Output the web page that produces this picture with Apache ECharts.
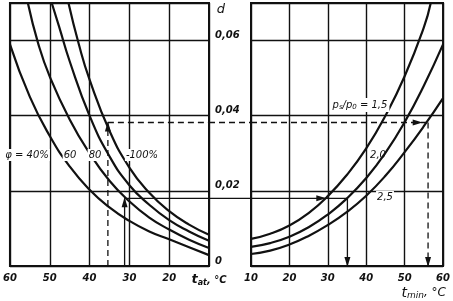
<!DOCTYPE html>
<html><head><meta charset="utf-8">
<script src="https://cdn.jsdelivr.net/npm/echarts@6/dist/echarts.min.js"></script>
<style>html,body{margin:0;padding:0;background:#fff}#c{width:453px;height:301px}</style>
</head><body><div id="c"></div>
<script>
// ---------- data ----------
// left panel: outdoor air temperature t_at (°C) vs moisture content d, for relative humidity φ
const phi40_t  = [10, 15, 20, 25, 30, 35, 40, 45, 50, 55, 60];
const phi40_d  = [0.0029, 0.0050, 0.0071, 0.0092, 0.0120, 0.0156, 0.0203, 0.0265, 0.0346, 0.045, 0.059];
const phi60_t  = [10, 15, 20, 25, 30, 35, 40, 45, 50, 52.9, 55.5];
const phi60_d  = [0.0048, 0.0070, 0.0097, 0.0129, 0.0172, 0.0227, 0.030, 0.039, 0.0504, 0.0592, 0.070];
const phi80_t  = [10, 15, 20, 25, 30, 35, 40, 45, 47.6, 49.5];
const phi80_d  = [0.0067, 0.0092, 0.0122, 0.0163, 0.0215, 0.0292, 0.040, 0.0545, 0.0635, 0.070];
const phi100_t = [10, 15, 20, 25, 30, 35, 40, 42.7, 45.3];
const phi100_d = [0.0083, 0.011, 0.0146, 0.0195, 0.0262, 0.036, 0.0496, 0.059, 0.070];
// right panel: t_min (°C) vs d, for pressure ratio ps/p0
const r15_t = [10, 15, 20, 25, 30, 35, 40, 45, 50, 55, 56.8];
const r15_d = [0.0072, 0.0086, 0.0108, 0.0141, 0.0186, 0.0243, 0.0313, 0.040, 0.0505, 0.0635, 0.070];
const r20_t = [10, 15, 20, 25, 30, 35, 40, 45, 50, 55, 60];
const r20_d = [0.0051, 0.0061, 0.0078, 0.0103, 0.0137, 0.018, 0.0234, 0.0301, 0.0383, 0.048, 0.059];
const r25_t = [10, 15, 20, 25, 30, 35, 40, 45, 50, 55, 60];
const r25_d = [0.0032, 0.0041, 0.0057, 0.008, 0.0109, 0.0144, 0.0187, 0.024, 0.0303, 0.0372, 0.0447];
// worked examples: [t_at, d, t_min, arrow position on t_min axis]
const exampleSolid  = [31.2, 0.018, 35.1, 28.3];
const exampleDashed = [35.4, 0.0382, 56.1, 53.4];
// axes
const tAtRange  = [10, 60];
const tMinRange = [10, 60];
const dRange    = [0, 0.07];
const tStep = 10, dStep = 0.02;
const labels = { phi: ['φ = 40%', '60', '80', '-100%'], ratio: ['1,5', '2,0', '2,5'] };

// ---------- chart ----------
const zip = (a, b) => a.map((v, i) => [v, b[i]]);
const font = 'DejaVu Sans';
const tickFont = { color: '#111', fontFamily: font, fontStyle: 'italic', fontWeight: 'bold', fontSize: 10 };
const ink = '#111';
const curve = (name, t, d, gi) => ({
  type: 'line', name, xAxisIndex: gi, yAxisIndex: gi, data: zip(t, d),
  smooth: 0.5, symbol: 'none', clip: true, silent: true,
  lineStyle: { color: ink, width: 2.2 }
});
const seg = (pts, gi, dashed, arrowIdx, rot) => ({
  type: 'line', xAxisIndex: gi, yAxisIndex: gi, silent: true, clip: false,
  data: pts.map((p, i) => (i === arrowIdx
    ? { value: p, symbol: 'triangle', symbolSize: [6, 10], symbolRotate: rot, symbolOffset: rot === 180 ? [0, -4] : (rot === 0 ? [0, 4] : [0, 0]) }
    : { value: p, symbol: 'none' })),
  showAllSymbol: true,
  itemStyle: { color: ink },
  lineStyle: { color: ink, width: 1.3, type: dashed ? [6, 4] : 'solid' }
});

const chart = echarts.init(document.getElementById('c'), null, { renderer: 'canvas' });
const grids = [
  { left: 4, top: 3, width: 205, height: 263, show: true, borderColor: ink, borderWidth: 2, backgroundColor: '#fff' },
  { left: 251, top: 3, width: 197, height: 263, show: true, borderColor: ink, borderWidth: 2, backgroundColor: '#fff' }
];
const splitStyle = { show: true, lineStyle: { color: ink, width: 1.4 } };
const option = {
  animation: false,
  backgroundColor: '#fff',
  grid: grids,
  xAxis: [
    { type: 'value', gridIndex: 0, min: tAtRange[0], max: tAtRange[1], interval: tStep, inverse: true,
      axisLine: { show: false }, axisTick: { show: false }, splitLine: splitStyle,
      axisLabel: { ...tickFont, margin: 7,
        formatter: v => v === 10 ? '{t|t}{s|at}{n|, °C}' : String(v),
        rich: { t: { fontFamily: font, fontStyle: 'italic', fontSize: 13, color: ink },
                s: { fontFamily: font, fontStyle: 'italic', fontSize: 8, color: ink, padding: [6, 0, 0, 0] },
                n: { fontFamily: font, fontStyle: 'italic', fontSize: 10, color: ink } } } },
    { type: 'value', gridIndex: 1, min: tMinRange[0], max: tMinRange[1], interval: tStep,
      axisLine: { show: false }, axisTick: { show: false }, splitLine: splitStyle,
      axisLabel: { ...tickFont, margin: 7 } }
  ],
  yAxis: [
    { type: 'value', gridIndex: 0, min: dRange[0], max: dRange[1], interval: dStep, position: 'right',
      axisLine: { show: false }, axisTick: { show: false }, splitLine: splitStyle,
      axisLabel: { ...tickFont, margin: 6, verticalAlign: 'bottom',
        formatter: v => v === 0 ? '0' : (Math.abs(v / dStep - Math.round(v / dStep)) > 1e-6 ? '' : v.toFixed(2).replace('.', ',')) } },
    { type: 'value', gridIndex: 1, min: dRange[0], max: dRange[1], interval: dStep,
      axisLine: { show: false }, axisTick: { show: false }, splitLine: splitStyle, axisLabel: { show: false } }
  ],
  series: [
    curve('φ40', phi40_t, phi40_d, 0),
    curve('φ60', phi60_t, phi60_d, 0),
    curve('φ80', phi80_t, phi80_d, 0),
    curve('φ100', phi100_t, phi100_d, 0),
    curve('1.5', r15_t, r15_d, 1),
    curve('2.0', r20_t, r20_d, 1),
    curve('2.5', r25_t, r25_d, 1),
    // solid example
    seg([[exampleSolid[0], 0], [exampleSolid[0], exampleSolid[1]]], 0, false, 1, 0),
    seg([[exampleSolid[0], exampleSolid[1]], [tAtRange[0], exampleSolid[1]]], 0, false, -1, 0),
    seg([[tMinRange[0], exampleSolid[1]], [exampleSolid[3], exampleSolid[1]], [exampleSolid[2], exampleSolid[1]]], 1, false, 1, -90),
    seg([[exampleSolid[2], exampleSolid[1]], [exampleSolid[2], 0]], 1, false, 1, 180),
    // dashed example
    seg([[exampleDashed[0], 0], [exampleDashed[0], exampleDashed[1]]], 0, true, 1, 0),
    seg([[exampleDashed[0], exampleDashed[1]], [tAtRange[0], exampleDashed[1]]], 0, true, -1, 0),
    seg([[tMinRange[0], exampleDashed[1]], [exampleDashed[3], exampleDashed[1]], [exampleDashed[2], exampleDashed[1]]], 1, true, 1, -90),
    seg([[exampleDashed[2], exampleDashed[1]], [exampleDashed[2], 0]], 1, true, 1, 180)
  ]
};
chart.setOption(option);

// gap segments between panels and text labels
const gap = (d, dashed) => {
  const a = chart.convertToPixel({ gridIndex: 0 }, [tAtRange[0], d]);
  const b = chart.convertToPixel({ gridIndex: 1 }, [tMinRange[0], d]);
  return { type: 'line', shape: { x1: a[0], y1: a[1], x2: b[0], y2: b[1] }, z: 50,
    style: { stroke: ink, lineWidth: 1.3, lineDash: dashed ? [6, 4] : null } };
};
const lbl = (text, x, y, extra) => ({ type: 'text', x, y, z: 60,
  style: Object.assign({ text, fill: ink, font: 'italic 10px "' + font + '"', align: 'center', verticalAlign: 'middle',
    backgroundColor: '#fff', padding: [1, 1] }, extra || {}) });
chart.setOption({ graphic: [
  gap(exampleSolid[1], false),
  gap(exampleDashed[1], true),
  lbl('d', 221, 10, { font: 'italic 13px "' + font + '"', backgroundColor: null }),
  lbl(labels.phi[0], 27, 155),
  lbl(labels.phi[1], 70, 155),
  lbl(labels.phi[2], 95, 155),
  lbl(labels.phi[3], 142, 155),
  { type: 'text', x: 360, y: 105, z: 60, style: { text: '{p|p}{s|s}{p|/p}{s|0}{p| = ' + labels.ratio[0] + '}',
      align: 'center', verticalAlign: 'middle', backgroundColor: '#fff', padding: [1, 2],
      rich: { p: { fontFamily: font, fontStyle: 'italic', fontSize: 10, fill: ink, color: ink },
              s: { fontFamily: font, fontStyle: 'italic', fontSize: 7, fill: ink, color: ink, padding: [5, 0, 0, 0] } } } },
  lbl(labels.ratio[1], 378, 155, { backgroundColor: null }),
  lbl(labels.ratio[2], 385, 197),
  { type: 'text', x: 446, y: 293, z: 60, style: { text: '{t|t}{s|min}{n|, °C}', align: 'right', verticalAlign: 'middle',
      rich: { t: { fontFamily: font, fontStyle: 'italic', fontSize: 14, fill: ink, color: ink },
              s: { fontFamily: font, fontStyle: 'italic', fontSize: 9, fill: ink, color: ink, padding: [6, 0, 0, 0] },
              n: { fontFamily: font, fontStyle: 'italic', fontSize: 12, fill: ink, color: ink } } } }
]});
</script></body></html>
